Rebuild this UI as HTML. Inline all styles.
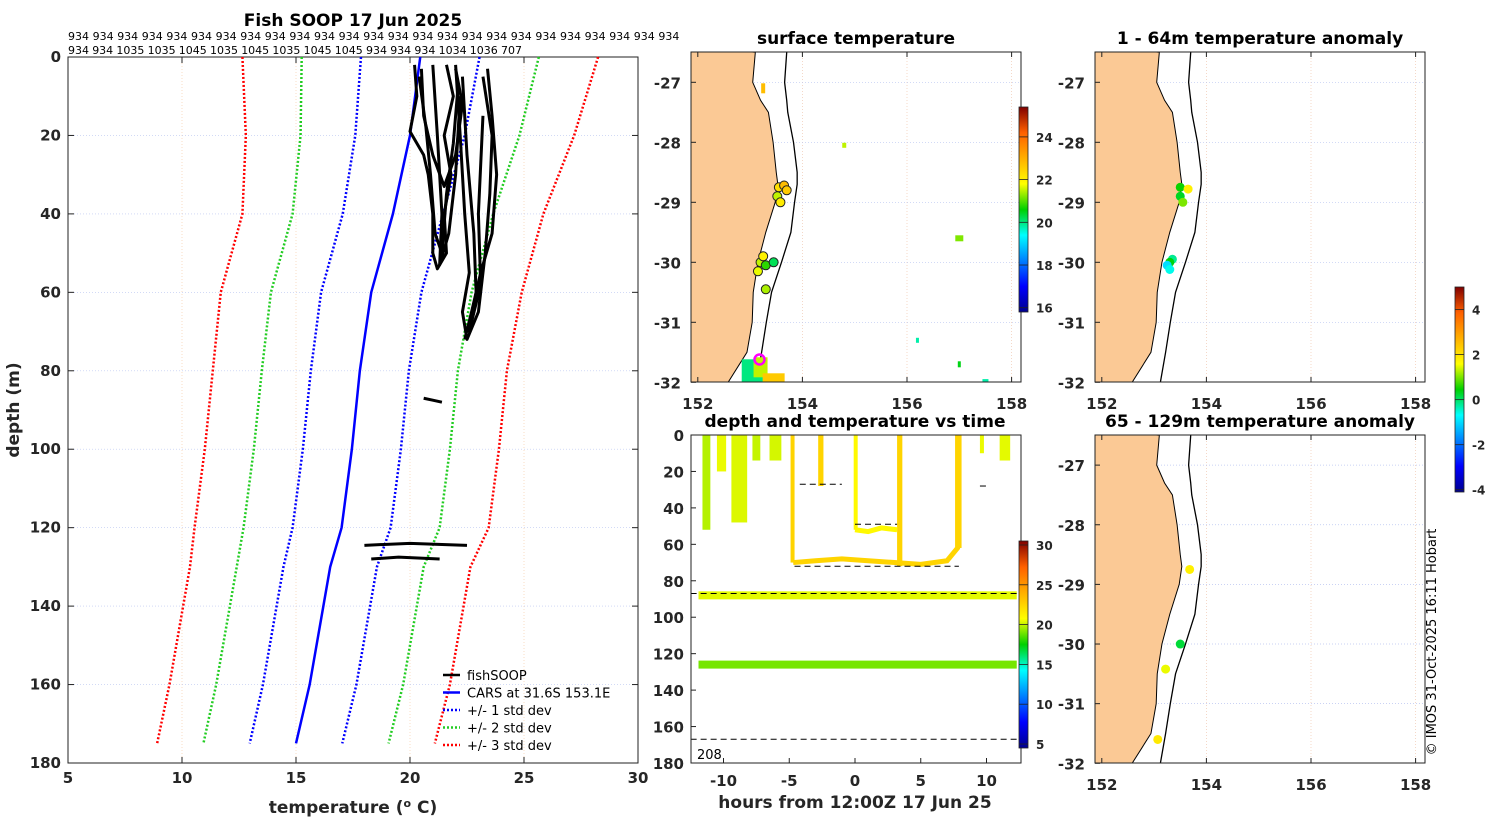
<!DOCTYPE html>
<html><head><meta charset="utf-8">
<style>
body{margin:0;background:#fff;}
svg{display:block;font-family:"DejaVu Sans","Liberation Sans",sans-serif;}
.tk{font-size:15px;font-weight:bold;fill:#262626;}
.ttl{font-size:17px;font-weight:bold;fill:#000;}
.sm{font-size:11px;fill:#000;}
.cb{font-size:12px;font-weight:bold;fill:#262626;}
</style></head>
<body>
<svg id="fig" width="1500" height="820" viewBox="0 0 1500 820" xmlns="http://www.w3.org/2000/svg">
<defs>
<linearGradient id="jet" x1="0" y1="1" x2="0" y2="0">
<stop offset="0" stop-color="#00008f"/><stop offset="0.125" stop-color="#0000ff"/><stop offset="0.375" stop-color="#00ffff"/><stop offset="0.5" stop-color="#00d000"/><stop offset="0.625" stop-color="#ffff00"/><stop offset="0.875" stop-color="#ff6000"/><stop offset="1" stop-color="#800000"/>
</linearGradient>
<clipPath id="c1"><rect x="691" y="52" width="330" height="330"/></clipPath>
<clipPath id="c2"><rect x="1095" y="52" width="330" height="330"/></clipPath>
<clipPath id="c3"><rect x="1095" y="435" width="330" height="328"/></clipPath>
</defs>
<g id="root"></g>
</svg>
<script>
// ---------- data ----------
const profileDepths=[0,20,40,60,80,100,120,130,140,160,175];
const carsMean=[20.45,20.0,19.25,18.3,17.8,17.45,17.0,16.5,16.2,15.6,15.0];
const carsStd=[2.6,2.4,2.2,2.2,2.15,2.15,2.15,2.05,2.05,2.05,2.03];
const tempTicks=[5,10,15,20,25,30];
const depthTicks=[0,20,40,60,80,100,120,140,160,180];
const fishProfiles=[
 [[20.2,2],[20.3,10],[20.0,19],[20.6,25],[20.8,30],[21.0,40],[21.0,50],[21.2,54],[21.6,50],[21.5,40],[21.8,30],[21.5,20],[21.9,10],[21.6,2]],
 [[22.0,2],[22.2,20],[22.4,40],[22.6,55],[22.3,65],[22.5,72],[23.0,65],[23.3,50],[23.5,35],[23.6,20],[23.2,5]],
 [[23.4,3],[23.6,15],[23.8,30],[23.6,45],[23.1,55],[22.7,65],[22.4,72]],
 [[20.5,3],[20.6,15],[21.0,25],[21.5,33],[22.0,25],[22.3,12],[22.0,3]],
 [[21.0,2],[21.2,20],[21.4,40],[21.3,53],[21.7,45],[22.0,30],[22.2,10]],
 [[20.4,5],[20.7,18],[20.9,30],[21.1,45],[21.4,50],[21.6,35],[21.9,22],[22.1,8]],
 [[22.3,5],[22.5,25],[22.8,45],[22.9,60],[22.6,70],[23.1,58],[23.0,40],[23.2,15]],
 [[20.6,87],[21.0,87.5],[21.4,88]],
 [[18.0,124.5],[20.0,124],[22.5,124.5]],
 [[18.3,128],[19.5,127.5],[21.3,128]]
];
const row1=Array(25).fill('934');
const row2=['934','934','1035','1035','1045','1035','1045','1035','1045','1045','934','934','934','1034','1036','707'];
const latTicks=[-27,-28,-29,-30,-31,-32];
const lonTicks=[152,154,156,158];
const coastLat=[-26.5,-27,-27.3,-27.5,-28,-28.5,-28.7,-29,-29.5,-30,-30.5,-31,-31.5,-32];
const coastLon=[153.1,153.05,153.2,153.35,153.44,153.5,153.53,153.48,153.3,153.15,153.06,153.04,152.94,152.58];
const shelfLon=[153.7,153.66,153.7,153.72,153.83,153.9,153.9,153.85,153.78,153.6,153.41,153.31,153.22,153.12];
const surfLon=[153.55,153.65,153.7,153.52,153.58,153.2,153.25,153.3,153.15,153.45,153.3];
const surfLat=[-28.75,-28.72,-28.8,-28.9,-29.0,-30.0,-29.9,-30.05,-30.15,-30.0,-30.45];
const surfT=[22.3,22.8,22.6,21.5,22.1,21.5,22.0,20.8,21.7,20.2,21.4];
const an1Lon=[153.5,153.65,153.5,153.55,153.35,153.3,153.25,153.3];
const an1Lat=[-28.75,-28.78,-28.9,-29.0,-29.95,-30.0,-30.05,-30.12];
const an1V=[0.5,1.8,0.3,1.0,-0.2,0.4,-1.0,-0.6];
const an2Lon=[153.68,153.5,153.22,153.07];
const an2Lat=[-28.75,-30.0,-30.42,-31.6];
const an2V=[1.8,0.2,1.5,1.9];
const tsTicksX=[-10,-5,0,5,10];
// time series: [hourStart,hourEnd,depth,temp]
const bands=[[-11.9,12.3,88,20.4],[-11.9,12.3,126,19.0]];
const yoyos=[[-11.6,-11.0,52,19.8],[-10.5,-9.8,20,20.5],[-9.4,-8.2,48,20.3],[-7.8,-7.2,14,20.0],[-6.5,-5.6,14,20.2],[-4.9,-4.6,70,22.5],[-2.8,-2.4,28,22.5],[-0.1,0.2,52,21.0],[3.2,3.6,72,22.5],[7.8,8.1,62,22.5],[9.5,9.8,10,20.5],[11,11.8,14,20.4]];
const uShape=[[-4.7,70],[-3,69],[-1,68],[1,69],[3,70],[5,71],[7,69],[7.8,62],[7.8,0]];
const lowSeg=[[0,52],[1,53],[2,51],[3.2,52]];
const dashes=[[-12.5,12.6,87],[-12.5,12.6,167],[-4.6,7.9,72],[0,3.2,49],[-4.2,-1.0,27],[9.5,10.0,28]];

// ---------- helpers ----------
const NS='http://www.w3.org/2000/svg';
const root=document.getElementById('root');
function mk(tag,attrs,parent){const e=document.createElementNS(NS,tag);for(const k in attrs)e.setAttribute(k,attrs[k]);(parent||root).appendChild(e);return e;}
function txt(x,y,s,cls,anchor,parent){const t=mk('text',{x:x,y:y,class:cls,'text-anchor':anchor||'middle'},parent);t.textContent=s;return t;}
const STOPS=[[0,0,0,143],[0.125,0,0,255],[0.375,0,255,255],[0.5,0,208,0],[0.625,255,255,0],[0.875,255,96,0],[1,128,0,0]];
function jet(t){t=Math.max(0,Math.min(1,t));for(let i=1;i<STOPS.length;i++){if(t<=STOPS[i][0]){const a=STOPS[i-1],b=STOPS[i];const f=(t-a[0])/(b[0]-a[0]);return 'rgb('+[1,2,3].map(k=>Math.round(a[k]+(b[k]-a[k])*f)).join(',')+')';}}return 'rgb(128,0,0)';}

// ---------- left profile panel ----------
const L={x0:68,x1:638,y0:57,y1:763};
const tx=t=>L.x0+(t-5)/25*(L.x1-L.x0);
const dy=d=>L.y0+d/180*(L.y1-L.y0);
const gL=mk('g',{});

tempTicks.forEach(t=>{if(t>5&&t<30)mk('line',{x1:tx(t),x2:tx(t),y1:L.y0,y2:L.y1,stroke:'#f4c8a0','stroke-width':0.6,'stroke-dasharray':'1 2'},gL);});
depthTicks.forEach(d=>{if(d>0&&d<180)mk('line',{x1:L.x0,x2:L.x1,y1:dy(d),y2:dy(d),stroke:'#b8c4f0','stroke-width':0.6,'stroke-dasharray':'1 2'},gL);});
mk('rect',{x:L.x0,y:L.y0,width:L.x1-L.x0,height:L.y1-L.y0,fill:'none',stroke:'#222','stroke-width':1},gL);
tempTicks.forEach(t=>{mk('line',{x1:tx(t),x2:tx(t),y1:L.y1,y2:L.y1-6,stroke:'#222'},gL);mk('line',{x1:tx(t),x2:tx(t),y1:L.y0,y2:L.y0+6,stroke:'#222'},gL);txt(tx(t),783,t,'tk','middle',gL);});
depthTicks.forEach(d=>{mk('line',{x1:L.x0,x2:L.x0+6,y1:dy(d),y2:dy(d),stroke:'#222'},gL);mk('line',{x1:L.x1,x2:L.x1-6,y1:dy(d),y2:dy(d),stroke:'#222'},gL);txt(61,dy(d)+5,d,'tk','end',gL);});
const xt=txt(353,813,'temperature (','tk','middle',gL);xt.style.fontSize='17px';
xt.innerHTML='temperature (<tspan baseline-shift="super" font-size="11">o</tspan> C)';
const yt=txt(0,0,'depth (m)','tk','middle',gL);yt.style.fontSize='17px';yt.setAttribute('transform','translate(19,410) rotate(-90)');
txt(353,26,'Fish SOOP 17 Jun 2025','ttl','middle',gL);
row1.forEach((s,i)=>txt(68+i*24.6,40,s,'sm','start',gL));
let cx=68;row2.forEach(s=>{txt(cx,54,s,'sm','start',gL);cx+=s.length*7+3.2;});
function curve(vals,col,dash,w,name){const pts=profileDepths.map((d,i)=>tx(vals[i])+','+dy(d)).join(' ');const p=mk('polyline',{points:pts,fill:'none',stroke:col,'stroke-width':w,'stroke-dasharray':dash},gL);}
[3,2,1].forEach(k=>{const col=k==3?'#f00':k==2?'#2c2':'#00f';
 curve(carsMean.map((m,i)=>m-k*carsStd[i]),col,'2 2',2.5,'std-minus-'+k);
 curve(carsMean.map((m,i)=>m+k*carsStd[i]),col,'2 2',2.5,'std-plus-'+k);});
curve(carsMean,'#00f','none',2.5,'cars-mean-line');
fishProfiles.forEach((p,i)=>{const e=mk('polyline',{points:p.map(q=>tx(q[0])+','+dy(q[1])).join(' '),fill:'none',stroke:'#000','stroke-width':3,'stroke-linejoin':'round'},gL);});
const leg=[['fishSOOP','#000','none'],['CARS at 31.6S 153.1E','#00f','none'],['+/- 1 std dev','#00f','2 2'],['+/- 2 std dev','#2c2','2 2'],['+/- 3 std dev','#f00','2 2']];
leg.forEach((l,i)=>{const y=675+i*17.5;const g=mk('g',{},gL);mk('line',{x1:443,x2:460,y1:y,y2:y,stroke:l[1],'stroke-width':2.5,'stroke-dasharray':l[2]},g);const t=txt(467,y+5,l[0],'sm','start',g);t.style.fontSize='13px';});

// ---------- maps ----------
function mapPanel(x0,y0,h,clip,title,name){
 const g=mk('g',{});
 const lonX=lo=>x0+(lo-151.87)*52.3;
 const latY=la=>y0+30.3*(h/330)+(-27-la)*(60*h/330);
 const gc=mk('g',{'clip-path':'url(#'+clip+')'},g);
 lonTicks.forEach(l=>mk('line',{x1:lonX(l),x2:lonX(l),y1:y0,y2:y0+h,stroke:'#f0c8b0','stroke-width':0.7,'stroke-dasharray':'1 2'},gc));
 latTicks.forEach(l=>mk('line',{x1:x0,x2:x0+330,y1:latY(l),y2:latY(l),stroke:'#b8c4f0','stroke-width':0.7,'stroke-dasharray':'1 2'},gc));
 let land='M'+x0+','+(y0-5)+' '+coastLat.map((la,i)=>'L'+lonX(coastLon[i])+','+latY(la)).join(' ')+' L'+lonX(152.4)+','+(y0+h+5)+' L'+x0+','+(y0+h+5)+'Z';
 const lp=mk('path',{d:land,fill:'#fbc995',stroke:'#000','stroke-width':1},gc);
 mk('polyline',{points:coastLat.map((la,i)=>lonX(shelfLon[i])+','+latY(la)).join(' '),fill:'none',stroke:'#000','stroke-width':1.3},gc);
 mk('rect',{x:x0,y:y0,width:330,height:h,fill:'none',stroke:'#222'},g);
 lonTicks.forEach(l=>{mk('line',{x1:lonX(l),x2:lonX(l),y1:y0+h,y2:y0+h-5,stroke:'#222'},g);mk('line',{x1:lonX(l),x2:lonX(l),y1:y0,y2:y0+5,stroke:'#222'},g);txt(lonX(l),y0+h+27,l,'tk','middle',g);});
 latTicks.forEach(l=>{mk('line',{x1:x0,x2:x0+5,y1:latY(l),y2:latY(l),stroke:'#222'},g);txt(x0-10,latY(l)+6,l,'tk','end',g);});
 txt(x0+165,y0-8,title,'ttl','middle',g);
 return {g:gc,lonX:lonX,latY:latY};
}
const m1=mapPanel(691,52,330,'c1','surface temperature','surface-temperature-map');
[[153.05,-31.85,20.0,22,28],[153.2,-31.75,21.5,14,20],[153.45,-31.95,22.6,22,12],[157.0,-29.6,21.2,8,6],[154.8,-28.05,21.5,4,5],[156.2,-31.3,19.8,3,5],[157.0,-31.7,20.5,3,6],[157.5,-31.98,19.8,6,4],[153.25,-27.1,22.8,4,10]].forEach(p=>{const r=mk('rect',{x:m1.lonX(p[0])-p[3]/2,y:m1.latY(p[1])-p[4]/2,width:p[3],height:p[4],fill:jet((p[2]-15.8)/9.6)},m1.g);});
surfT.forEach((t,i)=>{const c=mk('circle',{cx:m1.lonX(surfLon[i]),cy:m1.latY(surfLat[i]),r:4.5,fill:jet((t-15.8)/9.6),stroke:'#222','stroke-width':1},m1.g);});
mk('circle',{cx:m1.lonX(153.18),cy:m1.latY(-31.62),r:5,fill:'none',stroke:'#f0f','stroke-width':2.5},m1.g);
const m2=mapPanel(1095,52,330,'c2','1 - 64m temperature anomaly','anomaly-map-shallow');
an1V.forEach((v,i)=>{const c=mk('circle',{cx:m2.lonX(an1Lon[i]),cy:m2.latY(an1Lat[i]),r:4.5,fill:jet((v+4.1)/9.1)},m2.g);});
const m3=mapPanel(1095,435,328,'c3','65 - 129m temperature anomaly','anomaly-map-deep');
an2V.forEach((v,i)=>{const c=mk('circle',{cx:m3.lonX(an2Lon[i]),cy:m3.latY(an2Lat[i]),r:4.5,fill:jet((v+4.1)/9.1)},m3.g);});

// ---------- depth vs time ----------
const T={x0:691,x1:1021,y0:435,y1:763};
const hx=h=>855+h*13.15;
const ty=d=>T.y0+d/180*(T.y1-T.y0);
const gT=mk('g',{});
txt(855,427,'depth and temperature vs time','ttl','middle',gT);
const tc=t=>jet((t-4.5)/26);
bands.forEach(b=>{const r=mk('rect',{x:hx(b[0]),y:ty(b[2])-4,width:hx(b[1])-hx(b[0]),height:8,fill:tc(b[3])},gT);});
yoyos.forEach(b=>{const r=mk('rect',{x:hx(b[0]),y:ty(0),width:Math.max(4,hx(b[1])-hx(b[0])),height:ty(b[2])-ty(0),fill:tc(b[3])},gT);});
mk('polyline',{points:uShape.map(p=>hx(p[0])+','+ty(p[1])).join(' '),fill:'none',stroke:tc(22.5),'stroke-width':5},gT);
mk('polyline',{points:lowSeg.map(p=>hx(p[0])+','+ty(p[1])).join(' '),fill:'none',stroke:tc(21.0),'stroke-width':5},gT);
dashes.forEach(d=>mk('line',{x1:hx(d[0]),x2:hx(d[1]),y1:ty(d[2]),y2:ty(d[2]),stroke:'#000','stroke-width':1,'stroke-dasharray':'6 4'},gT));
mk('rect',{x:T.x0,y:T.y0,width:T.x1-T.x0,height:T.y1-T.y0,fill:'none',stroke:'#222'},gT);
tsTicksX.forEach(h=>{mk('line',{x1:hx(h),x2:hx(h),y1:T.y1,y2:T.y1-5,stroke:'#222'},gT);txt(hx(h),786,h,'tk','middle',gT);});
depthTicks.forEach(d=>{mk('line',{x1:T.x0,x2:T.x0+5,y1:ty(d),y2:ty(d),stroke:'#222'},gT);txt(684,ty(d)+6,d,'tk','end',gT);});
const xl=txt(855,808,'hours from 12:00Z 17 Jun 25','tk','middle',gT);xl.style.fontSize='17px';
const n208=txt(697,759,'208','sm','start',gT);n208.style.fontSize='13px';

// ---------- colorbars ----------
function cbar(x,y0,y1,vmin,vmax,ticks,name){const g=mk('g',{});
 mk('rect',{x:x,y:y0,width:9,height:y1-y0,fill:'url(#jet)',stroke:'#222','stroke-width':0.8},g);
 ticks.forEach(t=>{const y=y1-(t-vmin)/(vmax-vmin)*(y1-y0);mk('line',{x1:x,x2:x+9,y1:y,y2:y,stroke:'#222','stroke-width':0.8},g);txt(x+17,y+5,t,'cb','start',g);});}
cbar(1019,107,312,15.8,25.4,[16,18,20,22,24],'surface-temp-colorbar');
cbar(1019,541,748,4.5,30.5,[5,10,15,20,25,30],'time-temp-colorbar');
cbar(1455,287,492,-4.1,5,[-4,-2,0,2,4],'anomaly-colorbar');
const cp=txt(0,0,'© IMOS 31-Oct-2025 16:11 Hobart','sm','middle');cp.style.fontSize='13px';cp.setAttribute('transform','translate(1436,642) rotate(-90)');

</script>
</body></html>
